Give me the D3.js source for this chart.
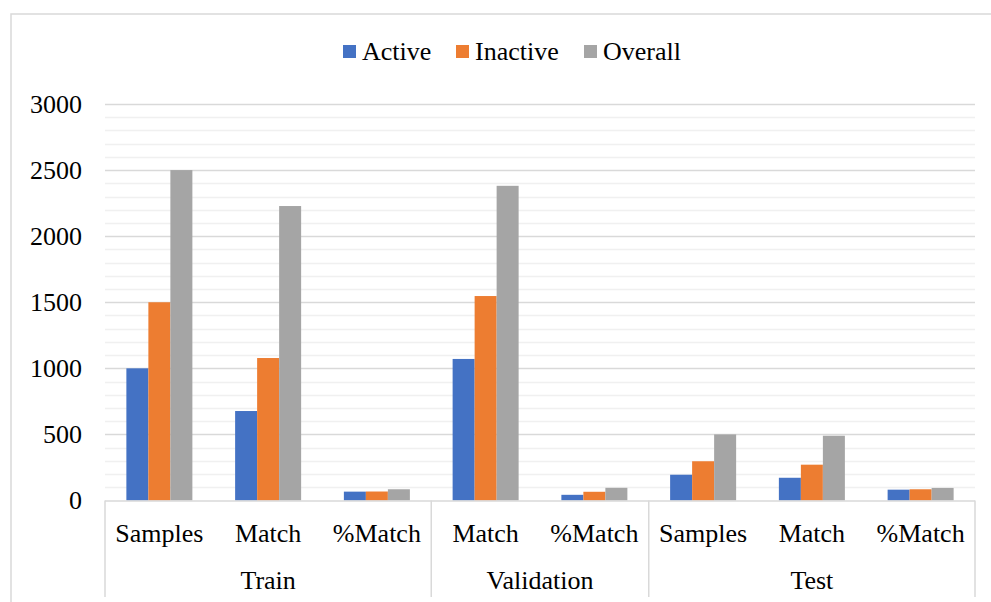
<!DOCTYPE html>
<html>
<head>
<meta charset="utf-8">
<script src="https://cdn.jsdelivr.net/npm/d3@7"></script>
<style>
  html, body { margin: 0; padding: 0; background: #fff; }
  svg { display: block; }
</style>
</head>
<body>
<svg id="chart" width="991" height="602"></svg>
<script>
// ---- data ----
const subCategories = ["Samples", "Match", "%Match", "Match", "%Match", "Samples", "Match", "%Match"];
const categoryGroups = ["Train", "Train", "Train", "Validation", "Validation", "Test", "Test", "Test"];
const seriesNames = ["Active", "Inactive", "Overall"];
const activeValues   = [1000, 677, 67, 1071, 43, 195, 172, 82];
const inactiveValues = [1500, 1078, 68, 1547, 66, 297, 271, 85];
const overallValues  = [2500, 2228, 85, 2381, 96, 500, 490, 95];
const yTicks = [0, 500, 1000, 1500, 2000, 2500, 3000];

const seriesValues = [activeValues, inactiveValues, overallValues];
const colors = ["#4472C4", "#ED7D31", "#A5A5A5"];
const FONT = "'Liberation Serif', 'Times New Roman', Times, serif";

const svg = d3.select("#chart");
const plot = { left: 105, right: 975, top: 104, bottom: 500.5 };
const fontSize = 26;

// outer chart frame
svg.append("rect")
  .attr("x", 11).attr("y", 14)
  .attr("width", 1000).attr("height", 620)
  .attr("fill", "none").attr("stroke", "#d9d9d9").attr("stroke-width", 1.5);

const y = d3.scaleLinear().domain([0, 3000]).range([plot.bottom, plot.top]);
const idx = d3.range(subCategories.length);
const x = d3.scaleBand().domain(idx).range([plot.left, plot.right])
  .paddingInner(0.393).paddingOuter(0.1965);
const xs = d3.scaleBand().domain(seriesNames).range([0, x.bandwidth()]);

// minor gridlines
const minor = d3.range(100, 3001, 100).filter(v => v % 500 !== 0);
svg.append("g").selectAll("line").data(minor).join("line")
  .attr("x1", plot.left).attr("x2", plot.right)
  .attr("y1", d => Math.round(y(d)) + 0.5).attr("y2", d => Math.round(y(d)) + 0.5)
  .attr("stroke", "#f0f0f0").attr("stroke-width", 1.5);

// major gridlines
svg.append("g").selectAll("line").data(yTicks.filter(v => v > 0)).join("line")
  .attr("x1", plot.left).attr("x2", plot.right)
  .attr("y1", d => Math.round(y(d)) + 0.5).attr("y2", d => Math.round(y(d)) + 0.5)
  .attr("stroke", "#d9d9d9").attr("stroke-width", 1.5);

// y-axis labels
svg.append("g").selectAll("text").data(yTicks).join("text")
  .attr("x", 82).attr("y", d => y(d))
  .attr("text-anchor", "end").attr("dominant-baseline", "central")
  .attr("font-family", FONT).attr("font-size", fontSize).attr("fill", "#000")
  .text(d => d);

// bars
const barG = svg.append("g");
seriesNames.forEach((s, si) => {
  barG.append("g").selectAll("rect").data(idx).join("rect")
    .attr("x", i => x(i) + xs(s))
    .attr("width", xs.bandwidth())
    .attr("y", i => y(seriesValues[si][i]))
    .attr("height", i => plot.bottom - y(seriesValues[si][i]))
    .attr("fill", colors[si]);
});

// category axis frame
const axisBottom = 597;
svg.append("line")
  .attr("x1", plot.left).attr("x2", plot.right)
  .attr("y1", plot.bottom + 0.5).attr("y2", plot.bottom + 0.5)
  .attr("stroke", "#d9d9d9").attr("stroke-width", 1.5);

// group spans
const groupNames = Array.from(new Set(categoryGroups));
const groupSpans = groupNames.map(g => {
  const members = idx.filter(i => categoryGroups[i] === g);
  const first = members[0], last = members[members.length - 1];
  return { name: g, start: plot.left + first * x.step(), end: plot.left + (last + 1) * x.step() };
});
const boundaries = [plot.left].concat(groupSpans.map(g => g.end));
svg.append("g").selectAll("line").data(boundaries).join("line")
  .attr("x1", d => d).attr("x2", d => d)
  .attr("y1", plot.bottom).attr("y2", axisBottom)
  .attr("stroke", "#d9d9d9").attr("stroke-width", 1.5);

// sub category labels
svg.append("g").selectAll("text").data(idx).join("text")
  .attr("x", i => x(i) + x.bandwidth() / 2)
  .attr("y", 533)
  .attr("text-anchor", "middle").attr("dominant-baseline", "central")
  .attr("font-family", FONT).attr("font-size", fontSize).attr("fill", "#000")
  .text(i => subCategories[i]);

// group labels
svg.append("g").selectAll("text").data(groupSpans).join("text")
  .attr("x", d => (d.start + d.end) / 2)
  .attr("y", 580)
  .attr("text-anchor", "middle").attr("dominant-baseline", "central")
  .attr("font-family", FONT).attr("font-size", fontSize).attr("fill", "#000")
  .text(d => d.name);

// legend
const legendItems = [
  { name: seriesNames[0], sx: 343, tx: 362 },
  { name: seriesNames[1], sx: 456, tx: 475 },
  { name: seriesNames[2], sx: 584, tx: 603 }
];
const lg = svg.append("g");
legendItems.forEach((d, i) => {
  lg.append("rect").attr("x", d.sx).attr("y", 45).attr("width", 13).attr("height", 13).attr("fill", colors[i]);
  lg.append("text").attr("x", d.tx).attr("y", 51)
    .attr("dominant-baseline", "central")
    .attr("font-family", FONT).attr("font-size", fontSize).attr("fill", "#000")
    .text(d.name);
});
</script>
</body>
</html>
